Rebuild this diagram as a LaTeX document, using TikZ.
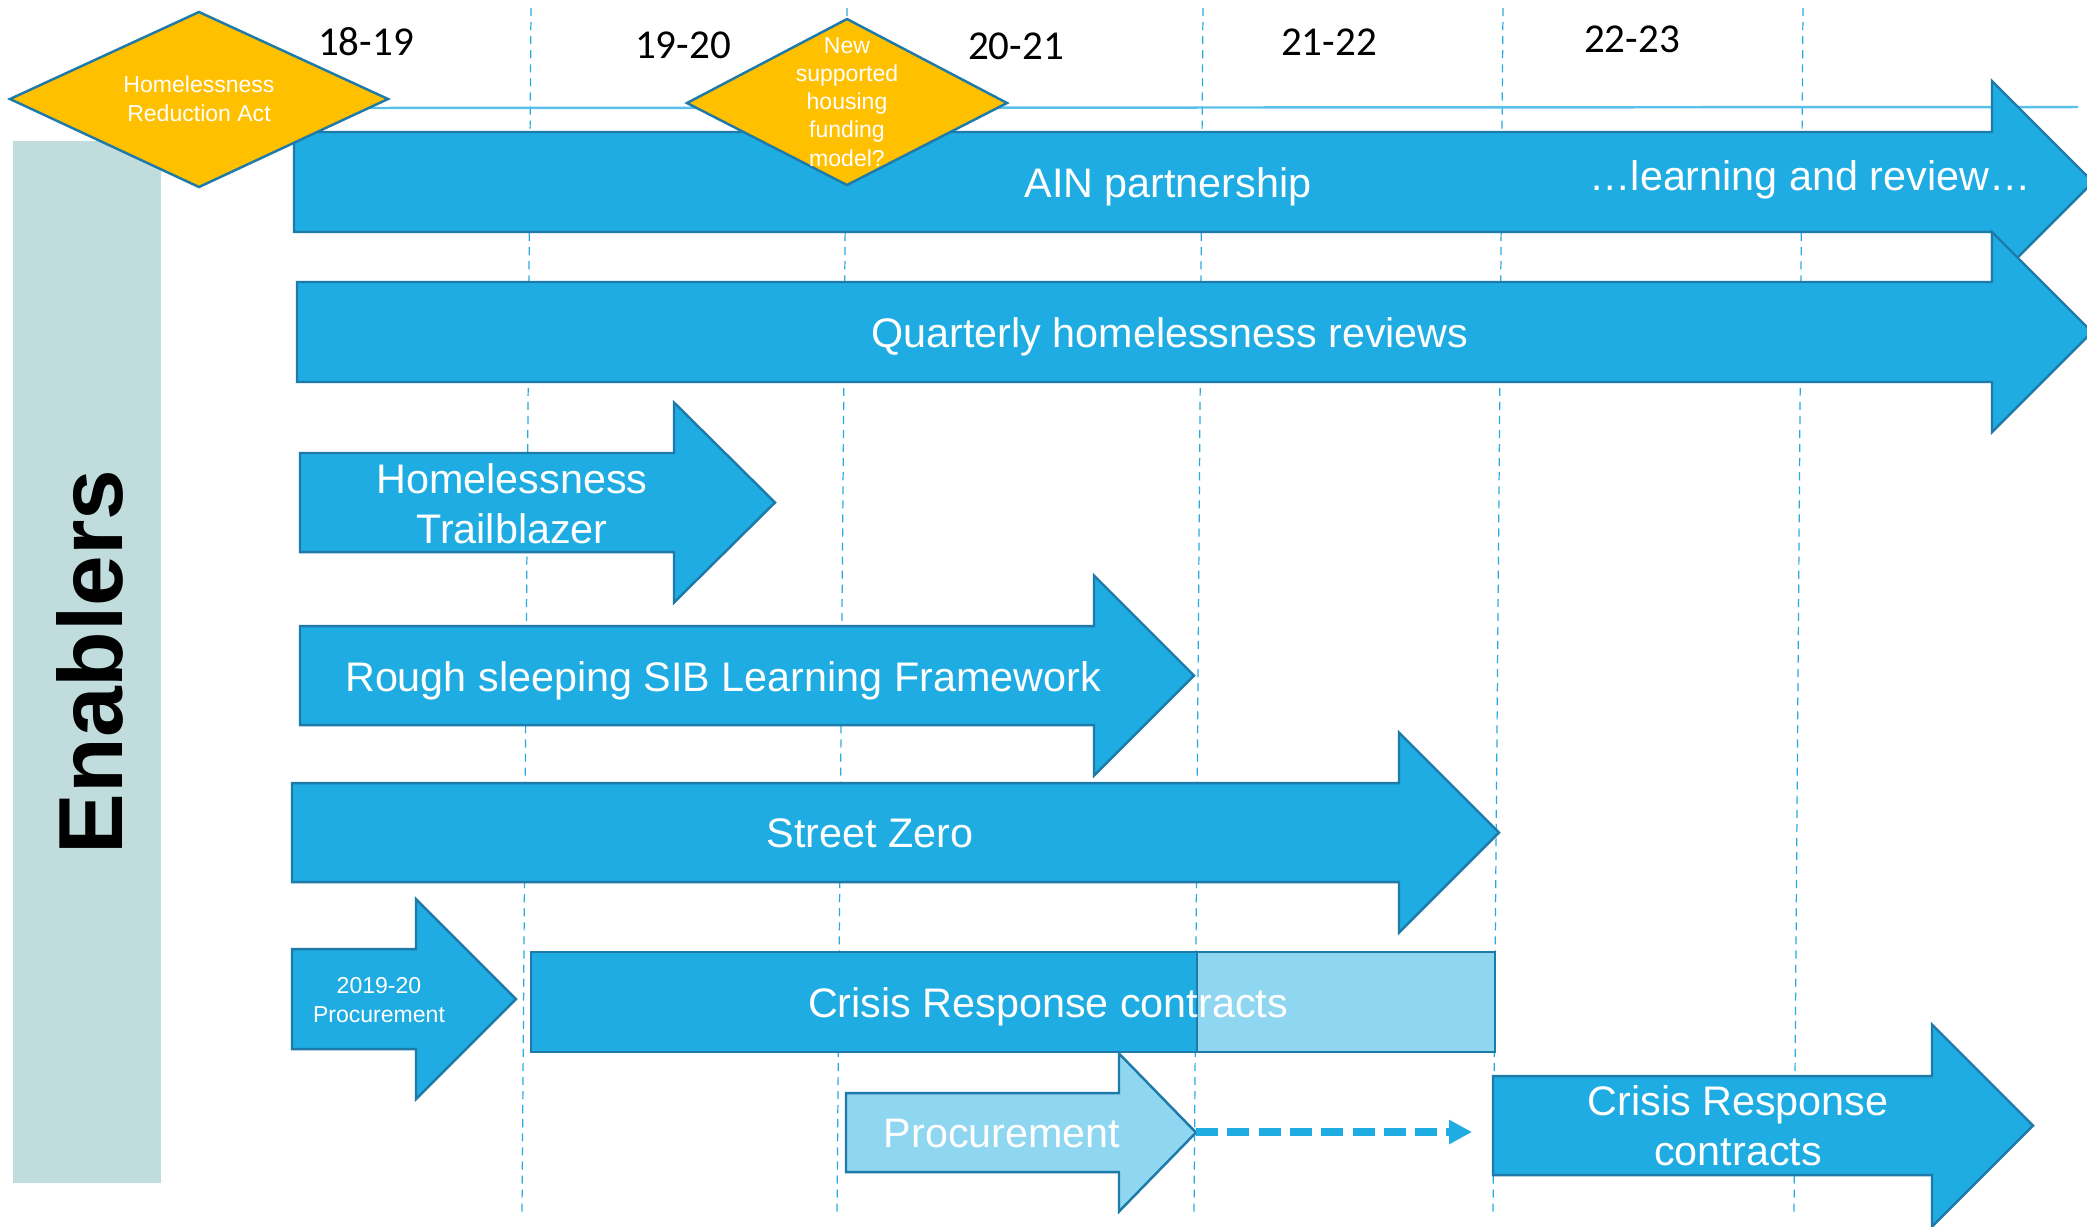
\documentclass[tikz,border=0pt]{standalone}
\usepackage{fontspec}
\setmainfont{Liberation Sans}
\newfontfamily\yearfont{Carlito}
\usetikzlibrary{arrows.meta}

\definecolor{mainblue}{RGB}{30,172,226}
\definecolor{edgeblue}{RGB}{30,122,168}
\definecolor{paleblue}{RGB}{143,214,241}
\definecolor{gridblue}{RGB}{40,170,225}
\definecolor{rulerblue}{RGB}{90,192,235}
\definecolor{gold}{RGB}{255,192,0}
\definecolor{sage}{RGB}{192,220,220}

\tikzset{
  barrow/.style={fill=mainblue, draw=edgeblue, line width=0.7pt, line join=miter},
  palearrow/.style={fill=paleblue},
  bigtxt/.style={text=white, font=\fontsize{11.75}{14.2}\selectfont, inner sep=0pt, anchor=base, align=center},
  smalltxt/.style={text=white, font=\fontsize{6.55}{7.97}\selectfont, inner sep=0pt, anchor=base, align=center},
  yeartxt/.style={font=\yearfont\fontsize{11.67}{14}\selectfont, inner sep=0pt, anchor=base},
  gridline/.style={draw=gridblue, line width=0.35pt, dash pattern=on 2.3pt off 1.7pt},
  milestone/.style={fill=gold, draw=edgeblue, line width=0.7pt, line join=miter},
  dasharrow/.style={draw=mainblue, line width=2.3pt, dash pattern=on 6.3pt off 2.6pt,
    -{Triangle[length=6.5pt,width=6.5pt]}},
}

% block arrow: [style]{left x}{body top}{body bottom}{head x}{head half height}{tip x}
\newcommand\tlarrow[7][]{%
  \draw[barrow,#1] (#2,#3) -- (#5,#3) -- (#5,{(#3+#4)/2-#6}) -- (#7,{(#3+#4)/2})
    -- (#5,{(#3+#4)/2+#6}) -- (#5,#4) -- (#2,#4) -- cycle;}

% multi-line labels are placed by the baseline of their last line
\begin{document}
\begin{tikzpicture}[x=0.01cm, y=-0.01cm]
\useasboundingbox (0,0) rectangle (2087,1226);

% side band
\fill[sage] (13,141) rectangle (161,1183);
\node[rotate=90, anchor=base, inner sep=0pt, font=\bfseries\fontsize{25.9}{30}\selectfont]
  (enablers) at (122,662) {Enablers};

% year grid
\coordinate (g1t) at (531,8);   \coordinate (g1b) at (522,1213);
\coordinate (g2t) at (847,8);   \coordinate (g2b) at (837,1213);
\coordinate (g3t) at (1203,8);  \coordinate (g3b) at (1194,1213);
\coordinate (g4t) at (1503,8);  \coordinate (g4b) at (1493,1213);
\coordinate (g5t) at (1803,8);  \coordinate (g5b) at (1794,1213);
\foreach \g in {1,...,5} \draw[gridline] (g\g t) -- (g\g b);

\node[yeartxt] (y1819) at (366,55) {18-19};
\node[yeartxt] (y1920) at (683,58) {19-20};
\node[yeartxt] (y2021) at (1016,59) {20-21};
\node[yeartxt] (y2122) at (1329,55) {21-22};
\node[yeartxt] (y2223) at (1632,52) {22-23};

% timeline rule
\coordinate (rulea) at (330,108);
\coordinate (ruleb) at (2078,107);
\draw[rulerblue, line width=0.7pt] (rulea) -- (ruleb);

% AIN partnership
\tlarrow{294}{132}{232}{1992}{101}{2093}
\node[bigtxt] (ain) at (1168,197) {AIN partnership};
\node[bigtxt] (learn) at (1810,190) {\dots learning and review\dots};

% Quarterly reviews
\tlarrow{297}{282}{382}{1992}{100}{2092}
\node[bigtxt] (qhr) at (1170,347) {Quarterly homelessness reviews};

% Trailblazer
\tlarrow{300}{453}{552}{674}{100}{775}
\node[bigtxt] (trail) at (512,543) {Homelessness\\Trailblazer};

% SIB learning framework
\tlarrow{300}{626}{725}{1094}{100}{1194}
\node[bigtxt] (sib) at (723,691) {Rough sleeping SIB Learning Framework};

% Street Zero
\tlarrow{292}{783}{882}{1399}{100}{1499}
\node[bigtxt] (sz) at (870,847) {Street Zero};

% 2019-20 procurement
\tlarrow{292}{949}{1049}{416}{100}{516}
\node[smalltxt] (proc1920) at (379,1022) {2019-20\\Procurement};

% Crisis Response contracts (current and extension)
\fill[mainblue] (531,952) rectangle (1197,1052);
\fill[paleblue] (1197,952) rectangle (1495,1052);
\draw[edgeblue, line width=0.7pt] (531,952) rectangle (1495,1052);
\draw[edgeblue, line width=0.7pt] (1197,952) -- (1197,1052);
\node[bigtxt] (crc) at (1048,1017) {Crisis Response contracts};

% new procurement
\tlarrow[palearrow]{846}{1093}{1172}{1119}{79}{1196}
\node[bigtxt] (proc) at (1002,1147) {Procurement};
\coordinate (proctip) at (1196,1132);

% new Crisis Response contracts
\tlarrow{1493}{1076}{1175}{1932}{101}{2033}
\node[bigtxt] (crc2) at (1738,1165) {Crisis Response\\contracts};
\coordinate (dashend) at (1472,1132);
\draw[dasharrow] (proctip) -- (dashend);

% milestones
\draw[milestone] (10,99) -- (199,12) -- (388,99) -- (199,187) -- cycle;
\node[smalltxt] (hra) at (199,121) {Homelessness\\Reduction Act};

\draw[milestone] (687,103) -- (847,19) -- (1007,103) -- (847,185) -- cycle;
\node[smalltxt] (nsh) at (847,166) {New\\supported\\housing\\funding\\model?};

\end{tikzpicture}
\end{document}
